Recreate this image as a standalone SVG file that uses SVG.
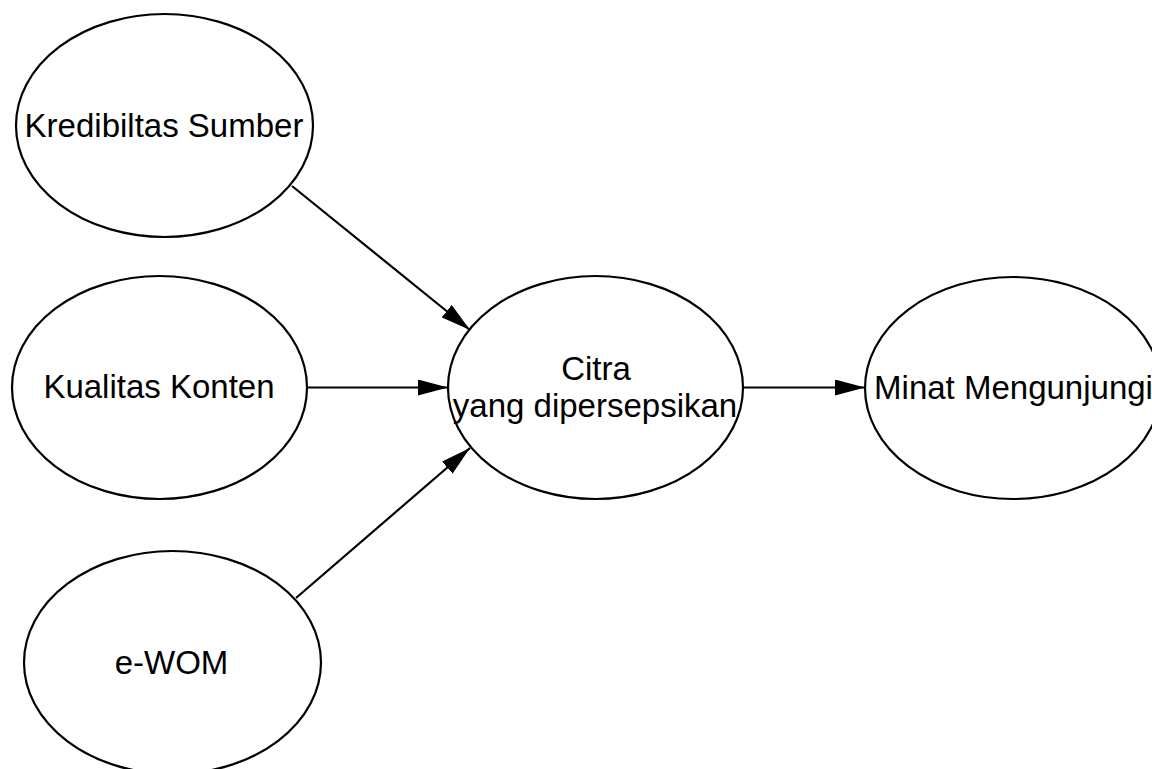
<svg xmlns="http://www.w3.org/2000/svg" width="1152" height="769" viewBox="0 0 1152 769">
<style>
.node ellipse{fill:#fff;stroke:#000;stroke-width:2.2}
.node text{font-family:"Liberation Sans",Arial,sans-serif;font-size:33px;fill:#000;text-anchor:middle}
.edge{stroke:#000;stroke-width:2.2;fill:none;marker-end:url(#arr)}
</style>
<defs>
<marker id="arr" markerUnits="userSpaceOnUse" markerWidth="30" markerHeight="16" refX="30" refY="8" orient="auto">
<path d="M0,0 L30,8 L0,16 z" fill="#000"/>
</marker>
</defs>
<rect width="1152" height="769" fill="#fff"/>
<g id="connectors">
<line class="edge" x1="292" y1="186" x2="470" y2="330"/>
<line class="edge" x1="307" y1="387.5" x2="448" y2="387.5"/>
<line class="edge" x1="296" y1="598" x2="470" y2="448"/>
<line class="edge" x1="743" y1="387.5" x2="865" y2="387.5"/>
</g>
<g id="kredibiltas" class="node">
<ellipse cx="164.5" cy="125.5" rx="148.5" ry="111.5"/>
<text x="164" y="137">Kredibiltas Sumber</text>
</g>
<g id="kualitas" class="node">
<ellipse cx="159.5" cy="387.5" rx="147.5" ry="111.5"/>
<text x="159" y="397.5">Kualitas Konten</text>
</g>
<g id="ewom" class="node">
<ellipse cx="172.5" cy="662.5" rx="148.5" ry="111.5"/>
<text x="171.5" y="674">e-WOM</text>
</g>
<g id="citra" class="node">
<ellipse cx="595.5" cy="387.5" rx="147.5" ry="111.5"/>
<text x="596" y="380">Citra</text>
<text x="595" y="416.5">yang dipersepsikan</text>
</g>
<g id="minat" class="node">
<ellipse cx="1013" cy="388" rx="148" ry="111"/>
<text x="1013.5" y="399">Minat Mengunjungi</text>
</g>
</svg>
